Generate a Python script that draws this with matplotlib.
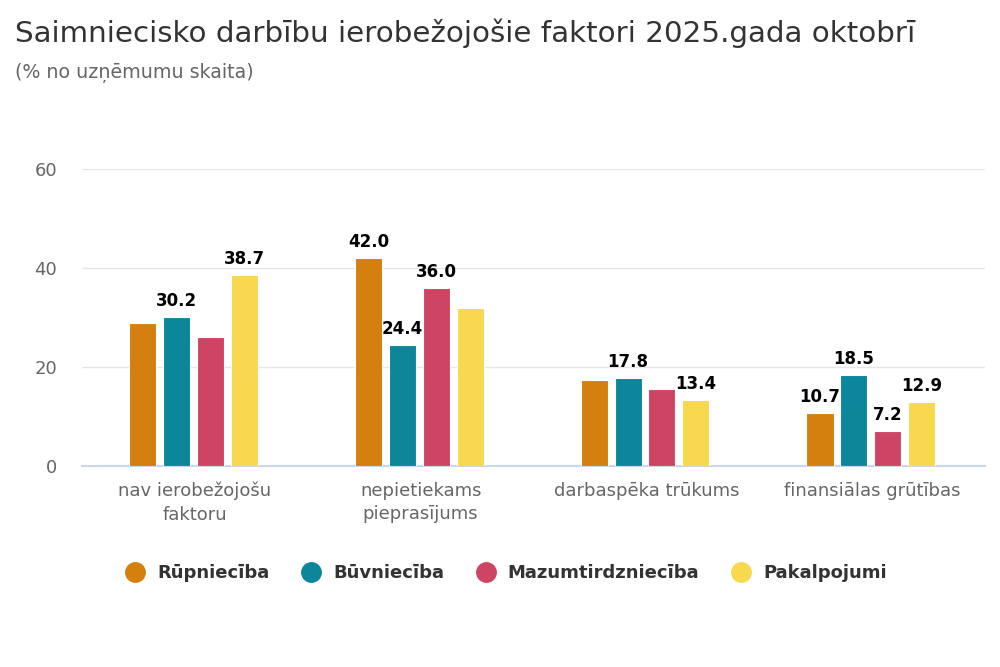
import matplotlib.pyplot as plt
from matplotlib.lines import Line2D
import numpy as np

FONT = "DejaVu Sans"
plt.rcParams["font.family"] = [FONT]
plt.rcParams["font.sans-serif"] = [FONT]

categories = ["nav ierobežojošu\nfaktoru", "nepietiekams\npieprasījums",
              "darbaspēka trūkums", "finansiālas grūtības"]
series_names = ["Rūpniecība", "Būvniecība", "Mazumtirdzniecība", "Pakalpojumi"]
colors = ["#D4800F", "#0C869B", "#CE4563", "#F8D84F"]

# bar heights
rupn = [28.9, 42.0, 17.5, 10.7]
buvn = [30.2, 24.4, 17.8, 18.5]
mazum = [26.1, 36.0, 15.5, 7.2]
pakalp = [38.7, 31.9, 13.4, 12.9]
values = [rupn, buvn, mazum, pakalp]

# data labels that are visible on the chart (None = hidden)
label_rupn = [None, "42.0", None, "10.7"]
label_buvn = ["30.2", "24.4", "17.8", "18.5"]
label_mazum = [None, "36.0", None, "7.2"]
label_pakalp = ["38.7", None, "13.4", "12.9"]
labels = [label_rupn, label_buvn, label_mazum, label_pakalp]

fig = plt.figure(figsize=(10, 6.67), dpi=100)
ax = fig.add_axes([0.082, 0.301, 0.903, 0.4456])

x = np.arange(len(categories))
bar_w = 0.12
step = 0.15
for i, (vals, name, col, labs) in enumerate(zip(values, series_names, colors, labels)):
    pos = x + (i - 1.5) * step - 0.006
    ax.bar(pos, vals, width=bar_w, color=col, edgecolor="white", linewidth=0.8, zorder=3)
    for p, v, lab in zip(pos, vals, labs):
        if lab:
            ax.annotate(lab, (p, v), xytext=(0, 5), textcoords="offset points",
                        ha="center", va="bottom", fontsize=12, fontweight="bold",
                        color="black", family=FONT, zorder=4)

ax.set_xlim(-0.5, len(categories) - 0.5)
ax.set_ylim(0, 60)
ax.set_yticks([0, 20, 40, 60])
ax.grid(axis="y", color="#e6e6e6", linewidth=1, zorder=0)
for s in ["top", "right", "left"]:
    ax.spines[s].set_visible(False)
ax.spines["bottom"].set_color("#ccd6eb")
ax.spines["bottom"].set_linewidth(1.5)
ax.tick_params(axis="y", length=0, labelsize=13, labelcolor="#666666", pad=18)
ax.tick_params(axis="x", length=0, labelsize=13, labelcolor="#666666", pad=11)
ax.set_xticks(x)
ax.set_xticklabels(categories, linespacing=1.4, family=FONT)
for t in ax.get_yticklabels():
    t.set_family(FONT)

fig.text(0.015, 0.95, "Saimniecisko darbību ierobežojošie faktori 2025.gada oktobrī",
         fontsize=21.2, color="#333333", va="center", family=FONT)
fig.text(0.015, 0.89, "(% no uzņēmumu skaita)", fontsize=13.7, color="#666666",
         va="center", family=FONT)

handles = [Line2D([0], [0], marker="o", linestyle="none", markersize=14,
                  markerfacecolor=c, markeredgecolor=c) for c in colors]
leg = fig.legend(handles, series_names, loc="center", bbox_to_anchor=(0.502, 0.141),
                 ncol=4, frameon=False, handletextpad=0.22, columnspacing=1.3,
                 prop={"size": 13, "weight": "bold", "family": FONT})
for t in leg.get_texts():
    t.set_color("#333333")

fig.savefig("out.png", dpi=100)
